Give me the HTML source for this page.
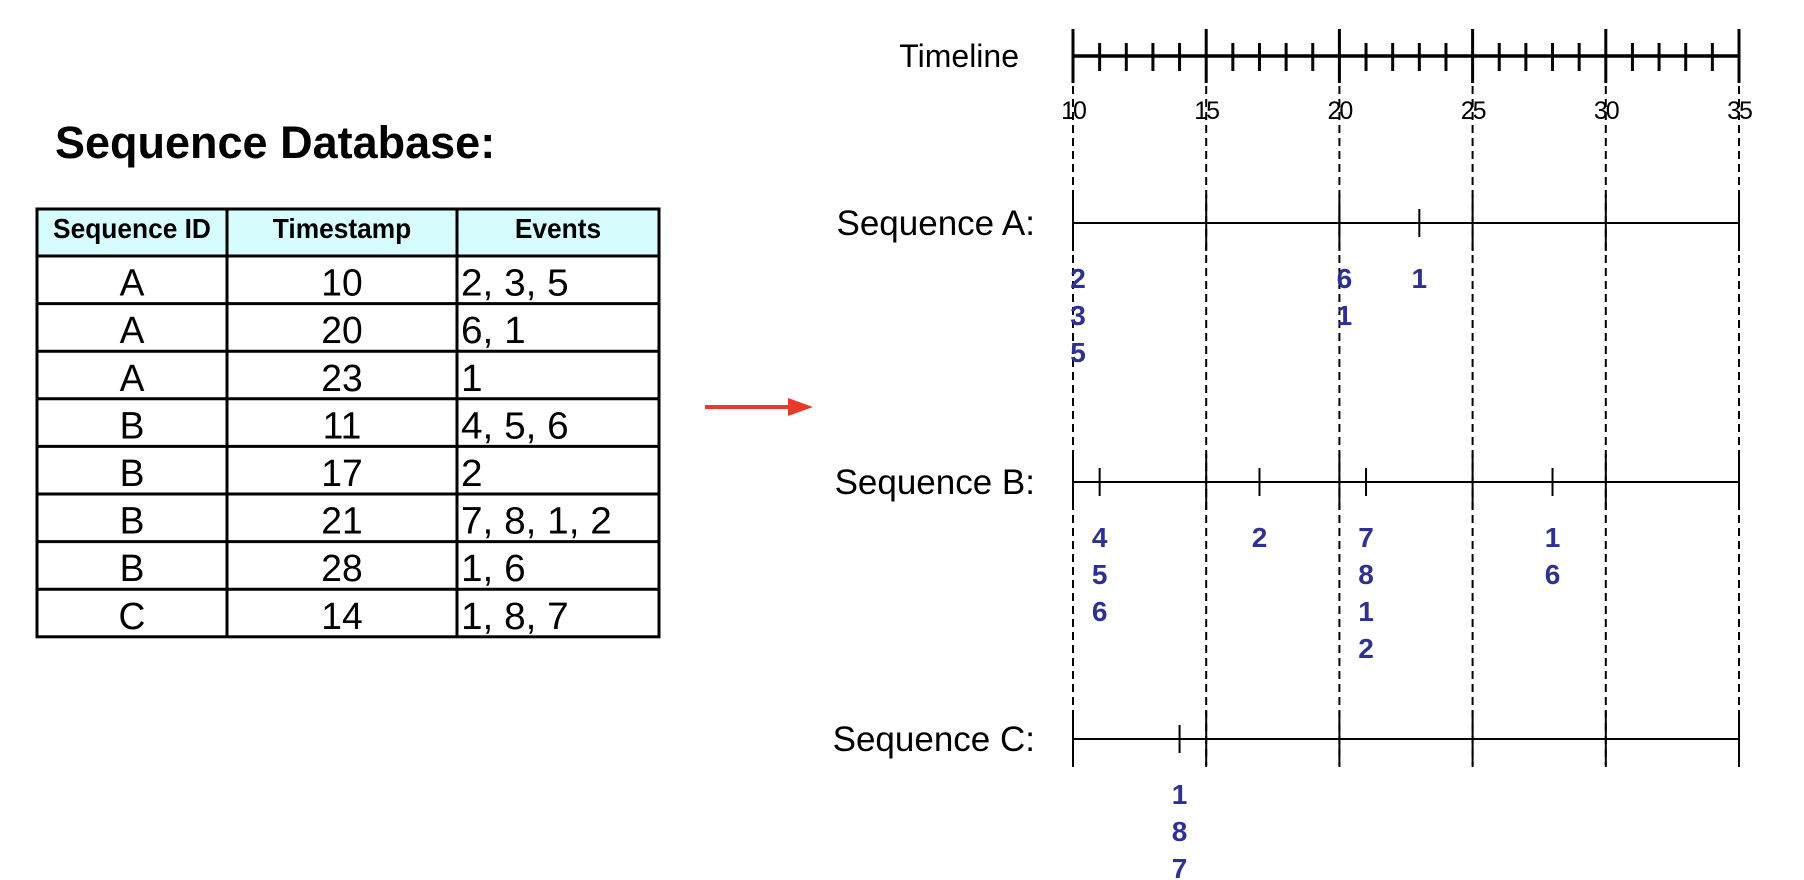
<!DOCTYPE html>
<html><head><meta charset="utf-8"><style>
html,body{margin:0;padding:0;background:#fff;width:1804px;height:880px;overflow:hidden}
svg{display:block}
text{font-family:"Liberation Sans",Arial,sans-serif}
</style></head><body>
<svg id="chart" width="1804" height="880" viewBox="0 0 1804 880" xmlns="http://www.w3.org/2000/svg">
<text x="55" y="158" font-size="45" font-weight="bold">Sequence Database:</text>
<g id="table"></g>
<g>
<line x1="705" y1="407" x2="790" y2="407" stroke="#e8392b" stroke-width="4"/>
<polygon points="788,398 813,407 788,416" fill="#e8392b"/>
</g>
<g id="tl"></g>
</svg>
<script>
const rowIds=["A","A","A","B","B","B","B","C"];
const rowTimes=[10,20,23,11,17,21,28,14];
const rowEvents=["2, 3, 5","6, 1","1","4, 5, 6","2","7, 8, 1, 2","1, 6","1, 8, 7"];
const seqNames=["A","B","C"];
const tickLabels=[10,15,20,25,30,35];

const NS="http://www.w3.org/2000/svg";
function mk(tag,attrs,parent,txt){const e=document.createElementNS(NS,tag);for(const k in attrs)e.setAttribute(k,attrs[k]);if(txt!==undefined)e.textContent=txt;parent.appendChild(e);return e;}

// table
const T=document.getElementById('table');
const tx0=37,tx1=659,c1=227,c2=457,ty0=209,hy=256,rh=47.6;
const hdrBg=mk('rect',{x:tx0,y:ty0,width:tx1-tx0,height:hy-ty0,fill:'#d6fcfd'},T);


const hdrs=[["Sequence ID",(tx0+c1)/2],["Timestamp",(c1+c2)/2],["Events",(c2+tx1)/2]];
hdrs.forEach(h=>{const t=mk('text',{x:0,y:0,'font-size':28,'font-weight':'bold','text-anchor':'middle',transform:`translate(${h[1]},${hy-18}) scale(0.94,1)`},T,h[0]);

});
const ty1=hy+rh*rowIds.length;
rowIds.forEach((id,i)=>{const yb=hy+rh*(i+1)-8;
const a=mk('text',{x:0,y:0,'font-size':38,'text-anchor':'middle',transform:`translate(${(tx0+c1)/2},${yb}) scale(0.98,1)`},T,id);


const b=mk('text',{x:0,y:0,'font-size':38,'text-anchor':'middle',transform:`translate(${(c1+c2)/2},${yb}) scale(0.98,1)`},T,String(rowTimes[i]));


const c=mk('text',{x:0,y:0,'font-size':38,transform:`translate(${c2+4},${yb}) scale(1.02,1)`},T,rowEvents[i]);


if(i>0)mk('line',{x1:tx0,x2:tx1,y1:hy+rh*i,y2:hy+rh*i,stroke:'#000','stroke-width':3},T);});
mk('line',{x1:tx0,x2:tx1,y1:hy,y2:hy,stroke:'#000','stroke-width':3},T);
mk('rect',{x:tx0,y:ty0,width:tx1-tx0,height:ty1-ty0,fill:'none',stroke:'#000','stroke-width':3},T);
[c1,c2].forEach(x=>mk('line',{x1:x,x2:x,y1:ty0,y2:ty1,stroke:'#000','stroke-width':3},T));

// timeline
const G=document.getElementById('tl');
const X0=1073,X1=1739;
const xs=v=>X0+(v-10)*(X1-X0)/25;
const axY=56;
const tlLab=mk('text',{x:1019,y:67,'font-size':32,'text-anchor':'end'},G,'Timeline');


mk('line',{x1:X0,x2:X1,y1:axY,y2:axY,stroke:'#000','stroke-width':3.5},G);
for(let v=10;v<=35;v++){
 const major=(v%5===0);
 mk('line',{x1:xs(v),x2:xs(v),y1:major?29:43,y2:major?83:71,stroke:'#000','stroke-width':3},G);
}
tickLabels.forEach(v=>{const t=mk('text',{x:xs(v),y:119,'font-size':25,'text-anchor':'middle','letter-spacing':'-2'},G,String(v));


mk('line',{x1:xs(v),x2:xs(v),y1:86,y2:765,stroke:'#000','stroke-width':2,'stroke-dasharray':'8,5'},G);});
const seqY=[223,482,739];
seqNames.forEach((s,si)=>{
 const y=seqY[si];
 const lab=mk('text',{x:1035,y:y+12,'font-size':35,'text-anchor':'end'},G,'Sequence '+s+':');
 
 
 const ln=mk('line',{x1:X0,x2:X1,y1:y,y2:y,stroke:'#000','stroke-width':2},G);
 
 
 tickLabels.forEach(v=>mk('line',{x1:xs(v),x2:xs(v),y1:y-28,y2:y+28,stroke:'#000','stroke-width':2},G));
 rowIds.forEach((id,i)=>{
  if(id!==s)return;
  const x=xs(rowTimes[i]);
  const tk=mk('line',{x1:x,x2:x,y1:y-14,y2:y+14,stroke:'#000','stroke-width':2},G);
  
  
  const off=(rowTimes[i]%5===0)?5:0;
  rowEvents[i].split(', ').forEach((e,k)=>{
   const t=mk('text',{x:x+off,y:y+65+k*37,'font-size':28,'font-weight':'bold','text-anchor':'middle',fill:'#2e3192'},G,e);
   
   
  });
 });
});
</script>
</body></html>
